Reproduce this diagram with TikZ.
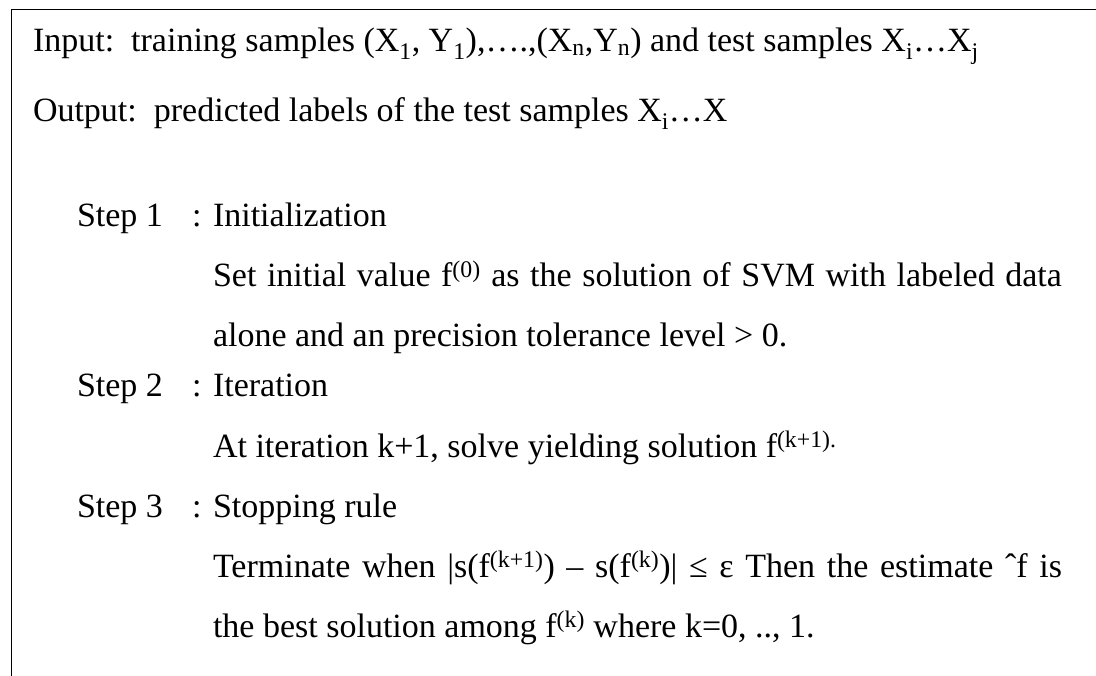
\documentclass[tikz,border=0pt]{standalone}
\usepackage{fontspec}
\setmainfont{Liberation Serif}
\begin{document}
\begin{tikzpicture}[x=1pt,y=-1pt,
  txt/.style={anchor=base west,inner sep=0pt,outer sep=0pt,font=\fontsize{34}{40}\selectfont},
  frame/.style={line width=1.8pt,black}]
\useasboundingbox (0,0) rectangle (1096,676);
% open frame: top rule and left rule
\coordinate (tl) at (11.5,9.5);
\coordinate (tr) at (1096,9.5);
\coordinate (bl) at (11.5,676);
\draw[frame] (tr) -- (tl) -- (bl);
% header lines
\node[txt] (in)  at (33,52)  {Input:\ \ training samples (X\textsubscript{1}, Y\textsubscript{1}),\dots.,(X\textsubscript{n},Y\textsubscript{n}) and test samples X\textsubscript{i}\dots X\textsubscript{j}};
\node[txt] (out) at (33,122) {Output:\ \ predicted labels of the test samples X\textsubscript{i}\dots X};
% step 1
\node[txt] (s1)  at (77,227) {Step 1};
\node[txt] (c1)  at (192,227) {:};
\node[txt] (h1)  at (213,227) {Initialization};
\node[txt] (b1a) at (213,287) {\hbox to 849pt{Set initial value f\textsuperscript{(0)} as the solution of SVM with labeled data}};
\node[txt] (b1b) at (213,347) {alone and an precision tolerance level > 0.};
% step 2
\node[txt] (s2)  at (77,397) {Step 2};
\node[txt] (c2)  at (192,397) {:};
\node[txt] (h2)  at (213,397) {Iteration};
\node[txt] (b2a) at (213,457) {At iteration k+1, solve yielding solution f\textsuperscript{(k+1).}};
% step 3
\node[txt] (s3)  at (77,517) {Step 3};
\node[txt] (c3)  at (192,517) {:};
\node[txt] (h3)  at (213,517) {Stopping rule};
\node[txt] (b3a) at (213,577) {\hbox to 849pt{Terminate when |s(f\textsuperscript{(k+1)}) – s(f\textsuperscript{(k)})| ≤ ε Then the estimate ˆf is}};
\node[txt] (b3b) at (213,637) {the best solution among f\textsuperscript{(k)} where k=0, .., 1.};
\end{tikzpicture}
\end{document}
